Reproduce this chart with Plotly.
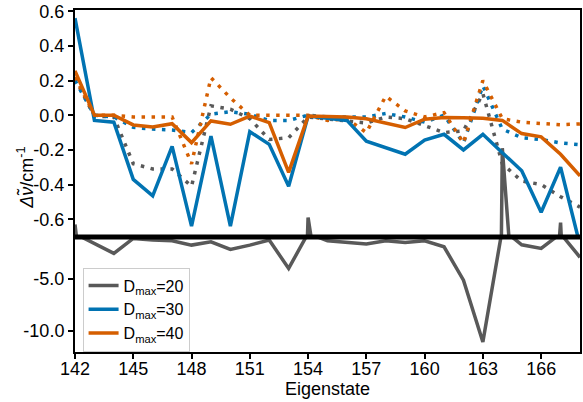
import plotly.graph_objects as go

# ---------------- data ----------------
eigenstates = list(range(142, 169))

d20_solid = [-0.63, -1.54, -2.53, -1.09, -1.25, -1.32, -1.73, -1.41, -2.14, -1.73,
             -1.25, -3.97, -0.59, -1.32, -1.51, -1.63, -1.32, -1.47, -1.32, -1.89,
             -5.10, -11.03, -0.19, -1.70, -2.05, -0.62, -2.90]
d30_solid = [0.56, -0.03, -0.04, -0.37, -0.465, -0.18, -0.64, -0.12, -0.64, -0.095,
             -0.168, -0.41, -0.005, -0.02, -0.03, -0.15, -0.187, -0.225, -0.143, -0.11,
             -0.20, -0.11, -0.216, -0.32, -0.56, -0.30, -0.75]
d40_solid = [0.256, 0.0, 0.0, -0.056, -0.068, -0.049, -0.158, -0.033, -0.052, -0.005,
             -0.043, -0.33, -0.005, -0.005, -0.01, -0.02, -0.043, -0.071, -0.023, -0.013,
             -0.015, -0.018, -0.03, -0.106, -0.125, -0.225, -0.35]

d20_dotted = [0.21, -0.005, -0.01, -0.28, -0.31, -0.31, -0.41, 0.054, 0.035, -0.02,
              -0.14, -0.13, -0.01, -0.02, -0.03, -0.045, -0.01, -0.02, -0.06, -0.10,
              -0.09, 0.125, -0.28, -0.38, -0.40, -0.47, -0.53]
d30_dotted = [0.20, 0.0, -0.01, -0.07, -0.08, -0.085, -0.10, 0.006, 0.02, 0.005,
              -0.03, -0.03, 0.0, -0.01, -0.01, -0.01, 0.01, -0.01, -0.04, 0.0,
              -0.16, 0.17, -0.08, -0.13, -0.14, -0.16, -0.17]
d40_dotted = [0.22, 0.0, 0.0, -0.01, -0.01, -0.01, -0.28, 0.217, 0.10, 0.0,
              0.0, 0.0, 0.0, -0.03, -0.02, -0.10, 0.11, 0.025, -0.01, 0.015,
              -0.16, 0.20, -0.02, -0.04, -0.05, -0.055, -0.05]

legend_names = ["D<sub>max</sub>=20", "D<sub>max</sub>=30", "D<sub>max</sub>=40"]

x_ticks = list(range(142, 167, 3))
top_ticks = [0.6, 0.4, 0.2, 0.0, -0.2, -0.4, -0.6]
top_ticktext = ["0.6", "0.4", "0.2", "0.0", "-0.2", "-0.4", "-0.6"]
bot_ticks = [-5, -10]
bot_ticktext = ["-5.0", "-10.0"]

# ---------------- style ----------------
GRAY = "#595959"
BLUE = "#0173B2"
ORANGE = "#D55E00"
FONT = "Liberation Sans, Arial, sans-serif"
SPLIT = 0.336

fig = go.Figure()

dotted = [(d20_dotted, GRAY), (d30_dotted, BLUE), (d40_dotted, ORANGE)]
solid = [(d20_solid, GRAY), (d30_solid, BLUE), (d40_solid, ORANGE)]

for vals, col in dotted:
    fig.add_trace(go.Scatter(x=eigenstates, y=vals, mode="lines", xaxis="x2", yaxis="y2",
                             line=dict(color=col, width=3.5, dash="3.5px,6.5px"),
                             showlegend=False, hoverinfo="skip"))

for (vals, col), name in zip(solid, legend_names):
    fig.add_trace(go.Scatter(x=eigenstates, y=vals, mode="lines", xaxis="x2", yaxis="y2",
                             line=dict(color=col, width=3.5), name=name, showlegend=True,
                             legendgroup=name))
    fig.add_trace(go.Scatter(x=eigenstates, y=vals, mode="lines", xaxis="x", yaxis="y",
                             line=dict(color=col, width=3.5), name=name, showlegend=False,
                             legendgroup=name))

axis_common = dict(showgrid=False, zeroline=False, showline=True, linecolor="black",
                   linewidth=2, mirror=True, ticklen=5, tickwidth=2,
                   tickcolor="black", tickfont=dict(family=FONT, size=18, color="black"))

fig.update_layout(
    width=583, height=402,
    margin=dict(l=75, r=1, t=10, b=50),
    paper_bgcolor="white", plot_bgcolor="white",
    font=dict(family=FONT, size=18, color="black"),
    xaxis=dict(domain=[0, 1], anchor="y", range=[142, 168], tickvals=x_ticks,
               ticks="outside", ticklabelstandoff=-6,
               title=dict(text="Eigenstate", standoff=2, font=dict(family=FONT, size=18)),
               **axis_common),
    xaxis2=dict(domain=[0, 1], anchor="y2", range=[142, 168], matches="x",
                showticklabels=False, ticks="", **axis_common),
    yaxis=dict(domain=[0, SPLIT], anchor="x", range=[-12, -0.96], tickvals=bot_ticks,
               ticktext=bot_ticktext, ticks="outside", **axis_common),
    yaxis2=dict(domain=[SPLIT, 1], anchor="x2", range=[-0.703, 0.607], tickvals=top_ticks,
                ticktext=top_ticktext, ticks="outside", **axis_common),
    legend=dict(x=0.015, y=0.247, xanchor="left", yanchor="top",
                bgcolor="rgba(255,255,255,0.8)", bordercolor="#cccccc", borderwidth=1,
                font=dict(family=FONT, size=16, color="black"), itemwidth=30,
                tracegroupgap=0),
    shapes=[dict(type="line", xref="paper", yref="paper", x0=0, x1=1, y0=SPLIT, y1=SPLIT,
                 line=dict(color="black", width=5), layer="above")],
    annotations=[dict(text="<i>Δν̃</i>/cm<sup>-1</sup>", xref="paper", yref="paper",
                      x=-0.124, y=0.509, textangle=-90, showarrow=False,
                      font=dict(family=FONT, size=18, color="black"))],
)

fig.write_html("out.html")
